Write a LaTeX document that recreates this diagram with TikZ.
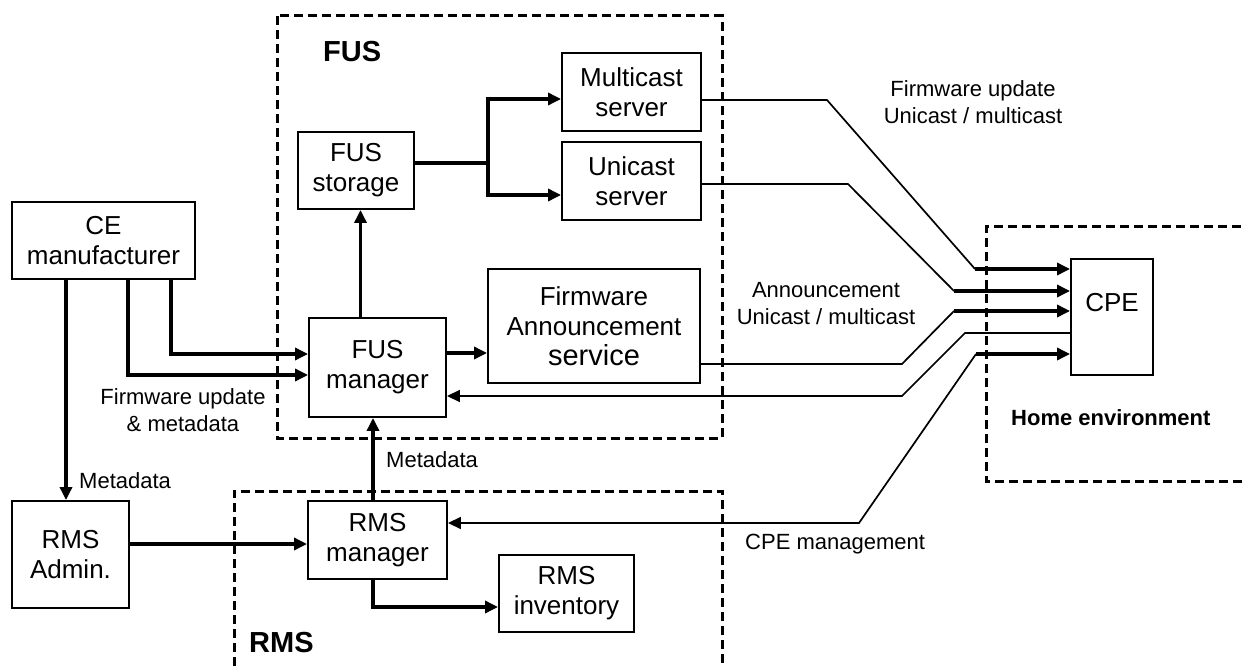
\documentclass[tikz,border=0pt]{standalone}
\usepackage{fontspec}
\setmainfont{Liberation Sans}
\usetikzlibrary{arrows.meta,calc}
\tikzset{
 box/.style={draw, line width=1.9pt, inner sep=0pt, align=center, font=\fontsize{26}{30}\selectfont},
 lbl/.style={inner sep=0pt, align=center, font=\fontsize{22}{27}\selectfont},
 ttl/.style={inner sep=0pt, font=\fontsize{29}{34}\selectfont\bfseries},
 grp/.style={dash pattern=on 9pt off 5pt, line width=3pt},
 thk/.style={line width=3.3pt},
 thn/.style={line width=1.7pt},
 arr/.style={-{Triangle[length=13pt,width=12pt]}},
 rarr/.style={{Triangle[length=13pt,width=12pt]}-},
}
\begin{document}
\begin{tikzpicture}[x=1pt,y=-1pt]
\useasboundingbox (0,0) rectangle (1242,668);
% groups
\draw[grp] (277,16) rectangle (722,438);
\draw[grp] (234,680) -- (234,491) -- (722,491) -- (722,680);
\draw[grp] (1255,227) -- (986,227) -- (986,481) -- (1255,481);
% nodes
\node[box, minimum width=183pt, minimum height=77pt] (ce) at (103.5,240.5) {CE\\manufacturer};
\node[box, minimum width=117pt, minimum height=107pt] (adm) at (70.5,554.5) {RMS\\Admin.};
\node[box, minimum width=116pt, minimum height=77pt] (sto) at (356,170.5) {FUS\\storage};
\node[box, minimum width=139pt, minimum height=78pt] (mc) at (631.5,92) {Multicast\\server};
\node[box, minimum width=139pt, minimum height=78pt] (uc) at (631.5,181) {Unicast\\server};
\node[box, minimum width=137pt, minimum height=99pt] (fm) at (377.5,367.5) {FUS\\manager};
\node[box, minimum width=212pt, minimum height=114pt] (fas) at (594,326) {Firmware\\Announcement\\{\fontsize{29}{33}\selectfont service}};
\node[box, minimum width=139pt, minimum height=78pt] (rm) at (377.5,540) {RMS\\manager};
\node[box, minimum width=135pt, minimum height=77pt] (inv) at (566.5,593.5) {RMS\\inventory};
\node[box, minimum width=82pt, minimum height=116pt, text depth=30pt] (cpe) at (1112,317) {CPE};
% titles
\node[ttl, anchor=west] (tfus) at (323,52) {FUS};
\node[ttl, anchor=west] (trms) at (249,643) {RMS};
\node[ttl, font=\fontsize{22}{27}\selectfont\bfseries, anchor=west] (thome) at (1011,418) {Home environment};
% labels
\node[lbl] (l1) at (973,102) {Firmware update\\Unicast / multicast};
\node[lbl] (l2) at (826,304) {Announcement\\Unicast / multicast};
\node[lbl] (l3) at (183,410) {Firmware update\\\& metadata};
\node[lbl, anchor=west] (l4) at (79,481) {Metadata};
\node[lbl, anchor=west] (l5) at (386,460) {Metadata};
\node[lbl, anchor=west] (l6) at (745,544) {CPE management};
% connectors inside FUS
\coordinate (br) at (488,163);
\draw[thk] ([yshift=7.5pt]sto.east) -- (br);
\draw[thk,arr] (br) |- ([yshift=-7pt]mc.west);
\draw[thk,arr] (br) |- ([yshift=-14pt]uc.west);
\coordinate (p1) at ([xshift=-17pt]fm.north);
\draw[thk,arr] (p1) -- (p1 |- sto.south);
\coordinate (f1) at ([yshift=14.5pt]fm.east);
\draw[thk,arr] (f1) -- (f1 -| fas.west);
% CE manufacturer
\coordinate (c1) at ([xshift=67.5pt]ce.south);
\draw[thk,arr] (c1) |- ([yshift=13.5pt]fm.west);
\coordinate (c2) at ([xshift=24.5pt]ce.south);
\draw[thk,arr] (c2) |- ([yshift=-7.5pt]fm.west);
\coordinate (c3) at ([xshift=-37.5pt]ce.south);
\draw[thk,arr] (c3) -- (c3 |- adm.north);
% RMS
\coordinate (a1) at ([yshift=10.5pt]adm.east);
\draw[thk,arr] (a1) -- (a1 -| rm.west);
\coordinate (r1) at ([xshift=-4.5pt]rm.north);
\draw[thk,arr] (r1) -- (r1 |- fm.south);
\draw[thk,arr] ([xshift=-4.5pt]rm.south) |- ([yshift=-13.5pt]inv.west);
% to/from CPE
\coordinate (m1) at (827,100); \coordinate (m2) at (975,269);
\draw[thn] ([yshift=-8pt]mc.east) -- (m1) -- (m2);
\draw[thk,arr] (m2) -- (m2 -| cpe.west);
\coordinate (u1) at (848,184); \coordinate (u2) at (954,291);
\draw[thn] ([yshift=-3pt]uc.east) -- (u1) -- (u2);
\draw[thk,arr] (u2) -- (u2 -| cpe.west);
\coordinate (s1) at (902,364); \coordinate (s2) at (954,311);
\draw[thn] ([yshift=-38pt]fas.east) -- (s1) -- (s2);
\draw[thk,arr] (s2) -- (s2 -| cpe.west);
\coordinate (k1) at (965,333); \coordinate (k2) at (902,396);
\draw[thn,arr] ([yshift=-16pt]cpe.west) -- (k1) -- (k2) -- (k2 -| fm.east);
\coordinate (q1) at (859,523); \coordinate (q2) at (976,354);
\draw[thn,rarr] (q1 -| rm.east) -- (q1) -- (q2);
\draw[thk,arr] (q2) -- (q2 -| cpe.west);
\end{tikzpicture}
\end{document}
